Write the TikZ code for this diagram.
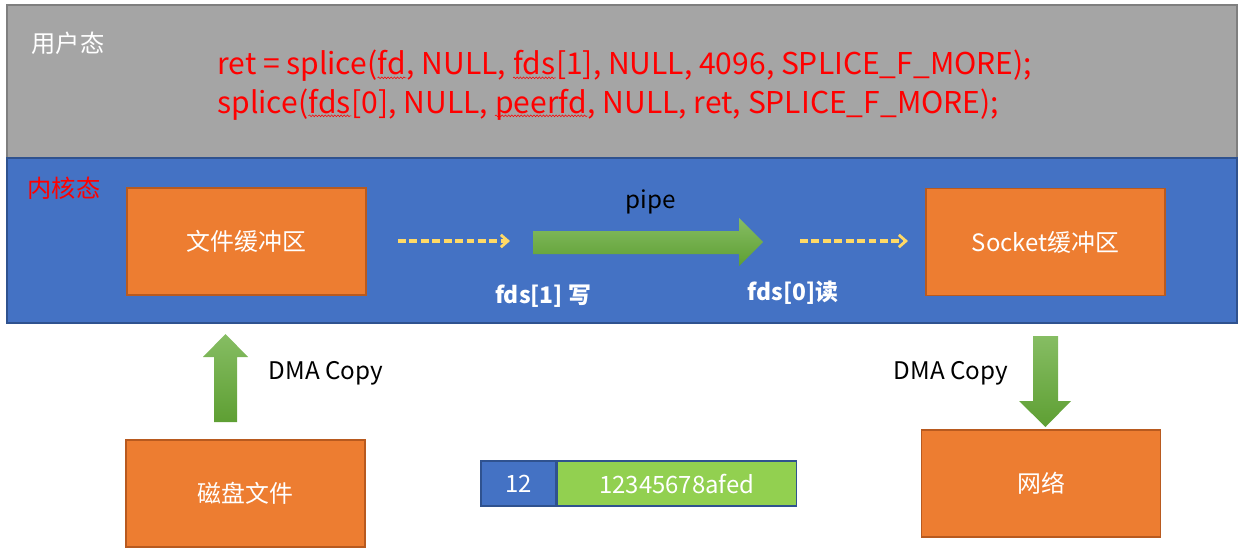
\documentclass[tikz,border=0pt]{standalone}
\usepackage{fontspec}
\setmainfont{Noto Sans CJK SC}
\usetikzlibrary{arrows.meta,positioning,decorations.pathmorphing}
\definecolor{usergray}{HTML}{A5A5A5}
\definecolor{linegray}{HTML}{7F7F7F}
\definecolor{kblue}{HTML}{4472C4}
\definecolor{kbluedark}{HTML}{2F528F}
\definecolor{korange}{HTML}{ED7D31}
\definecolor{korangedark}{HTML}{B85A1F}
\definecolor{cellgreen}{HTML}{92D050}
\definecolor{dashyellow}{HTML}{FFD966}
\definecolor{arrowtop}{HTML}{86BD63}
\definecolor{arrowbot}{HTML}{5E9F33}
\definecolor{codered}{HTML}{FF0000}
\newcommand\typo[1]{\tikz[baseline=(w.base)]{\node[inner sep=0pt] (w) {#1};
    \draw[codered,line width=0.3pt,decorate,decoration={snake,amplitude=0.5pt,segment length=1.8pt}] ([yshift=-1.6pt]w.base west) -- ([yshift=-1.6pt]w.base east);}}

\begin{document}
\begin{tikzpicture}[x=0.02cm,y=-0.02cm,
    userband/.style={draw=linegray,fill=usergray,line width=0.6pt},
    kernband/.style={draw=kbluedark,fill=kblue,line width=0.6pt},
    buffer/.style={draw=korangedark,fill=korange,line width=0.8pt,minimum width=4.78cm,minimum height=2.14cm,text=white,font=\fontsize{13.6pt}{16pt}\selectfont},
    cell/.style={draw=kbluedark,line width=0.8pt,minimum height=0.9cm,inner sep=0pt,text=white,font=\fontsize{13.6pt}{16pt}\selectfont},
    label/.style={inner sep=0pt,font=\fontsize{13.8pt}{16pt}\selectfont},
    boldlabel/.style={inner sep=0pt,text=white,font=\fontsize{13pt}{16pt}\selectfont\bfseries},
    code/.style={inner sep=0pt,anchor=base west,text=codered,font=\fontsize{17.1pt}{20pt}\selectfont},
    yellowdash/.style={draw=dashyellow,line width=1.8pt,dash pattern=on 4.5pt off 2pt,-{Straight Barb[length=4pt,width=7pt,line width=1.6pt]}},
    bigarrow/.style={top color=arrowtop,bottom color=arrowbot,draw=none}
    ]
    \useasboundingbox (0,0) rectangle (1244,554);

    \filldraw[userband] (7,5) rectangle (1237,158);
    \filldraw[kernband] (7,158) rectangle (1237,323);

    \node[label,text=white] (user) at (68,43) {用户态};
    \node[label,text=codered] (kernel) at (64,188) {内核态};

    \node[code] (call1) at (217,75) {ret = splice(\typo{fd}, NULL, \typo{fds}[1], NULL, 4096, SPLICE\_F\_MORE);};
    \node[code] (call2) at (217,113) {splice(\typo{fds}[0], NULL, \typo{peerfd}, NULL, ret, SPLICE\_F\_MORE);};

    \node[buffer] (filebuf) at (246.5,241.5) {文件缓冲区};
    \node[buffer] (sockbuf) at (1045.5,242) {Socket缓冲区};
    \node[buffer] (disk) at (245.5,493.5) {磁盘文件};
    \node[buffer] (net) at (1041,483.5) {网络};

    \coordinate (w1s) at (398,241);
    \coordinate (w1e) at (510,241);
    \coordinate (r0s) at (800,241);
    \coordinate (r0e) at (908,241);
    \draw[yellowdash] (w1s) -- (w1e);
    \draw[yellowdash] (r0s) -- (r0e);

    \shade[bigarrow] (533,231) -- (739,231) -- (739,218) -- (763,242) -- (739,266) -- (739,254) -- (533,254) -- cycle;
    \shade[bigarrow] (214,422) -- (214,357) -- (203,357) -- (225.5,334) -- (248,357) -- (237,357) -- (237,422) -- cycle;
    \shade[bigarrow] (1033,336) -- (1058,336) -- (1058,401) -- (1071,401) -- (1045.5,427) -- (1019,401) -- (1033,401) -- cycle;

    \node[label] (pipe) at (651,202) {pipe};
    \node[boldlabel] (wr) at (543,296) {fds[1] 写};
    \node[boldlabel] (rd) at (793,293) {fds[0]读};
    \node[label] (dma1) at (326,373) {DMA Copy};
    \node[label] (dma2) at (951,373) {DMA Copy};

    \node[cell,fill=kblue,minimum width=1.5cm] (len) at (518.5,483.5) {12};
    \node[cell,fill=cellgreen,minimum width=4.78cm,right=0pt of len] (data) {12345678afed};

\end{tikzpicture}
\end{document}
